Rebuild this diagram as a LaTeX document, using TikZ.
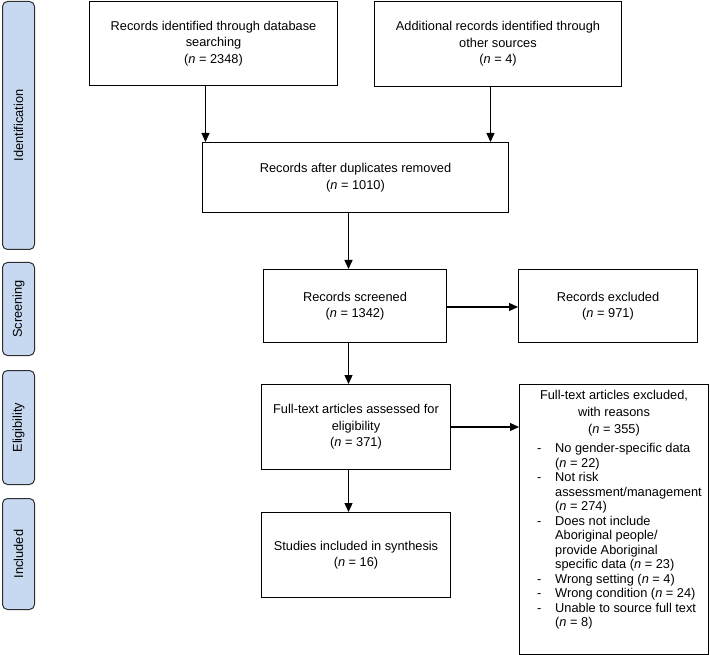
\documentclass[tikz,border=0pt]{standalone}
\usepackage{fontspec}
\setmainfont{Liberation Sans}
\usepackage{array}
\usetikzlibrary{arrows.meta}
\definecolor{sidefill}{HTML}{C6D9F1}
\definecolor{sideline}{HTML}{2E2E2E}
\begin{document}
\begin{tikzpicture}[x=1pt,y=-1pt,
  every node/.style={font=\fontsize{12.8}{16.5}\selectfont},
  box/.style={draw=black, line width=1pt, anchor=north west, inner sep=0pt, align=center},
  side/.style={draw=sideline, fill=sidefill, line width=1pt, rounded corners=5pt, anchor=north west, inner sep=0pt},
  arr/.style={line width=1.3pt, -{Triangle[length=9pt,width=8pt]}}
]
\useasboundingbox (0,0) rectangle (710,655);

% side labels
\node[side, minimum width=32pt, minimum height=248pt] (lid) at (2,1) {};
\node[rotate=90] (lidt) at (lid.center) {Identification};
\node[side, minimum width=32pt, minimum height=93pt] (lsc) at (2,262) {};
\node[rotate=90] (lsct) at (lsc.center) {Screening};
\node[side, minimum width=32pt, minimum height=114pt] (lel) at (2,370) {};
\node[rotate=90] (lelt) at (lel.center) {Eligibility};
\node[side, minimum width=32pt, minimum height=111pt] (lin) at (2,498) {};
\node[rotate=90] (lint) at (lin.center) {Included};

% boxes
\node[box, minimum width=248pt, minimum height=84pt] (b1) at (89,1)
  {Records identified through database\\searching\\(\textit{n} = 2348)};
\node[box, minimum width=247pt, minimum height=85pt] (b2) at (374,1)
  {Additional records identified through\\other sources\\(\textit{n} = 4)};
\node[box, minimum width=306pt, minimum height=70pt] (b3) at (202,142)
  {Records after duplicates removed\\(\textit{n} = 1010)};
\node[box, minimum width=183pt, minimum height=73pt] (b4) at (263,269)
  {Records screened\\(\textit{n} = 1342)};
\node[box, minimum width=179pt, minimum height=73pt] (b5) at (518,269)
  {Records excluded\\(\textit{n} = 971)};
\node[box, minimum width=189pt, minimum height=85pt] (b6) at (261,384)
  {Full-text articles assessed for\\eligibility\\(\textit{n} = 371)};
\node[box, minimum width=189pt, minimum height=270pt] (b7) at (519,384) {};
\node[box, minimum width=189pt, minimum height=85pt] (b8) at (261,512)
  {Studies included in synthesis\\(\textit{n} = 16)};

% contents of the exclusion box
\node[anchor=north, align=center, inner sep=0pt, font=\fontsize{12.8}{17}\selectfont] (b7h) at (614,390)
  {Full-text articles excluded,\\with reasons\\(\textit{n} = 355)};
\node[anchor=north west, inner sep=0pt, font=\fontsize{12.8}{14.5}\selectfont] (b7l) at (537,442.3)
  {\begin{tabular}{@{}p{18pt}@{}>{\raggedright\arraybackslash}p{154pt}@{}}
   - & No gender-specific data\newline(\textit{n} = 22)\\
   - & Not risk\newline assessment/management\newline(\textit{n} = 274)\\
   - & Does not include\newline Aboriginal people/\newline provide Aboriginal\newline specific data (\textit{n} = 23)\\
   - & Wrong setting (\textit{n} = 4)\\
   - & Wrong condition (\textit{n} = 24)\\
   - & Unable to source full text\newline(\textit{n} = 8)
  \end{tabular}};

% connectors
\draw[arr] ([xshift=-8pt]b1.south) -- ([xshift=-8pt]b1.south |- b3.north);
\draw[arr] ([xshift=-7.5pt]b2.south) -- ([xshift=-7.5pt]b2.south |- b3.north);
\draw[arr] ([xshift=-7pt]b3.south) -- ([xshift=-7pt]b3.south |- b4.north);
\draw[arr] ([yshift=-1pt]b4.east) -- ([yshift=-1pt]b4.east -| b5.west);
\draw[arr] ([xshift=-6.5pt]b4.south) -- ([xshift=-6.5pt]b4.south |- b6.north);
\draw[arr] (b6.east) -- (b6.east -| b7.west);
\draw[arr] ([xshift=-7.5pt]b6.south) -- ([xshift=-7.5pt]b6.south |- b8.north);
\end{tikzpicture}
\end{document}
